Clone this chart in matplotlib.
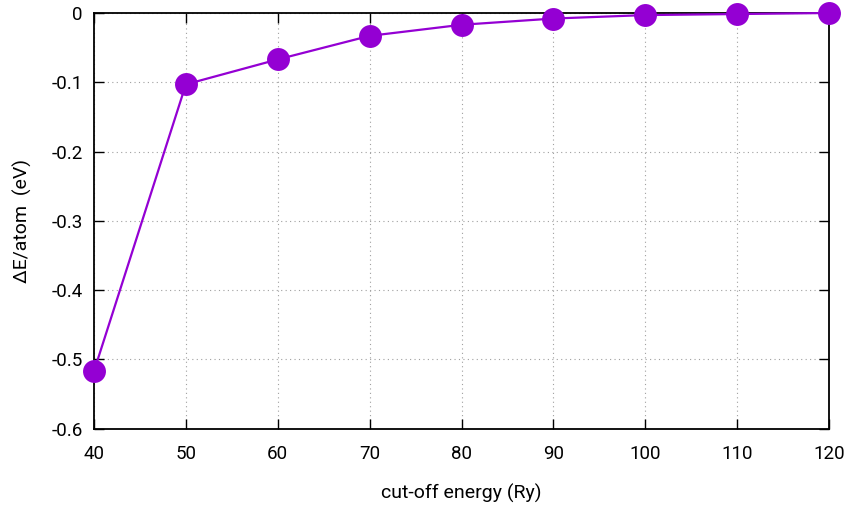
import matplotlib
matplotlib.use("Agg")
import matplotlib.pyplot as plt

cutoff = [40, 50, 60, 70, 80, 90, 100, 110, 120]
dE = [-0.517, -0.103, -0.067, -0.033, -0.017, -0.008, -0.003, -0.0015, 0.0]
xticks = [40, 50, 60, 70, 80, 90, 100, 110, 120]
yticks = [-0.6, -0.5, -0.4, -0.3, -0.2, -0.1, 0.0]
ytick_labels = ["-0.6", "-0.5", "-0.4", "-0.3", "-0.2", "-0.1", "0"]

plt.rcParams['font.family'] = ['Roboto', 'DejaVu Sans']
fig = plt.figure(figsize=(8.51, 5.09), dpi=100)
ax = fig.add_axes([94/851, 1-428.7/509, (829-94)/851, (428.7-13)/509])

ax.plot(cutoff, dE, color='#9400D3', lw=1.6, marker='o', ms=16.5,
        markeredgewidth=0, clip_on=False, zorder=3)

ax.set_xlim(40, 120)
ax.set_ylim(-0.6, 0)
ax.set_xticks(xticks)
ax.set_xticklabels([str(v) for v in xticks])
ax.set_yticks(yticks)
ax.set_yticklabels(ytick_labels)
ax.grid(True, color='#a0a0a0', linestyle=(0, (1, 3)), lw=0.8)
ax.tick_params(direction='in', top=True, right=True, length=7, width=1,
               labelsize=13.5, pad=12, colors='black')
ax.tick_params(axis='y', pad=8)
for s in ax.spines.values():
    s.set_linewidth(1.3)
    s.set_zorder(2)

ax.set_xlabel("cut-off energy (Ry)", fontsize=14, labelpad=15)
ax.set_ylabel("ΔE/atom  (eV)", fontsize=14, labelpad=14)

fig.savefig("out.png", dpi=100)
